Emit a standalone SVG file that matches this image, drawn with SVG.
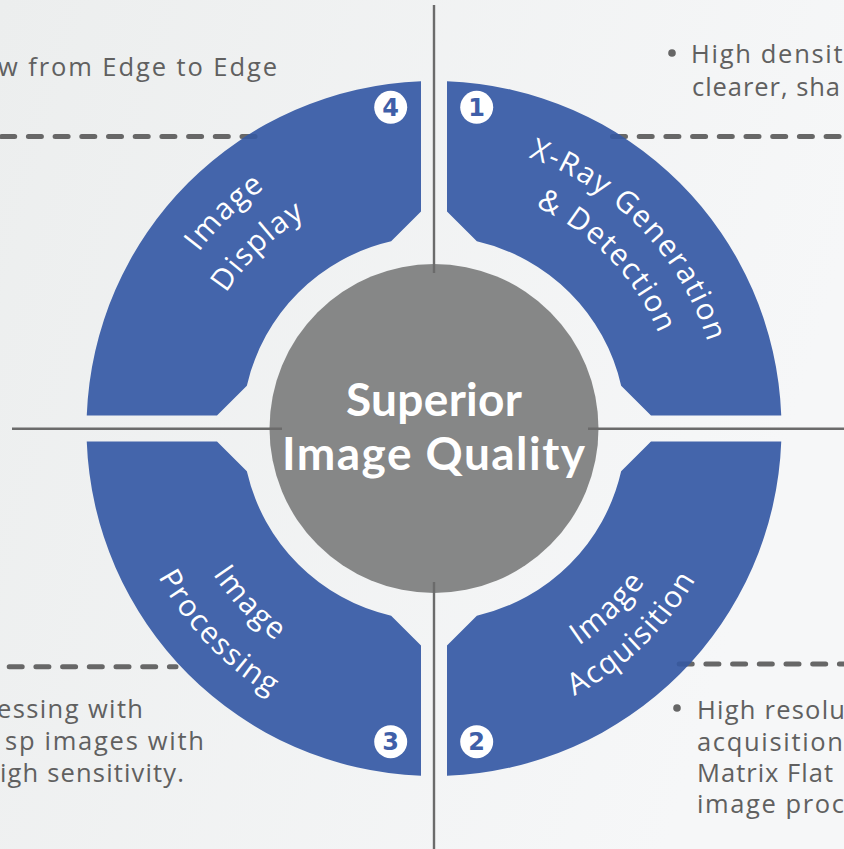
<svg xmlns="http://www.w3.org/2000/svg" width="844" height="849" viewBox="0 0 844 849">
<defs>
<linearGradient id="bg" x1="0" y1="0" x2="1" y2="0.3">
<stop offset="0" stop-color="#eceeee"/>
<stop offset="1" stop-color="#f6f7f8"/>
</linearGradient>
<path id="s1" d="M447,81.24 A347.5,347.5 0 0 1 781.26,415.5 L651,415.5 L621.15,385.65 A192,192 0 0 0 476.85,241.35 L447,211.5 Z"/>
<path id="s2" d="M447,775.76 A347.5,347.5 0 0 0 781.26,441.5 L651,441.5 L621.15,471.35 A192,192 0 0 1 476.85,615.65 L447,645.5 Z"/>
<path id="s3" d="M421,775.76 A347.5,347.5 0 0 1 86.74,441.5 L217,441.5 L246.85,471.35 A192,192 0 0 0 391.15,615.65 L421,645.5 Z"/>
<path id="s4" d="M421,81.24 A347.5,347.5 0 0 0 86.74,415.5 L217,415.5 L246.85,385.65 A192,192 0 0 1 391.15,241.35 L421,211.5 Z"/>
<clipPath id="segclip">
<use href="#s1"/><use href="#s2"/><use href="#s3"/><use href="#s4"/>
</clipPath>
<path id="d1" d="M1.7,136.6 H256"/>
<path id="d2" d="M612.5,136.6 H850"/>
<path id="d3" d="M-17.5,666.7 H176"/>
<path id="d4" d="M679.2,664 H850"/>
<path id="t1a" d="M317.3,166.3 A287,287 0 0 1 692,554.3"/>
<path id="t1b" d="M334.8,205.6 A244,244 0 0 1 653.3,535.5"/>
<path id="t4a" d="M165.4,548.1 A294,294 0 0 1 562.9,164.3"/>
<path id="t4b" d="M207.5,529.4 A248,248 0 0 1 542.7,205.6"/>
<path id="t3a" d="M196.9,310.3 A265,265 0 0 0 539.7,671.5"/>
<path id="t3b" d="M153.9,288.8 A313,313 0 0 0 558.8,715.6"/>
<path id="t2a" d="M319.6,663.1 A261,261 0 0 0 672.4,322.4"/>
<path id="t2b" d="M301.6,699.9 A302,302 0 0 0 709.9,305.7"/>
<style>
.seg{fill:#4465ab}
.lbl{font-family:'Open Sans',sans-serif;font-size:30px;fill:#ffffff;letter-spacing:1.6px}
.dash{fill:none;stroke-width:5;stroke-linecap:round;stroke-dasharray:13 13.7}
.axis{stroke:#6b6b6b;stroke-width:2.4}
.body{font-family:'Open Sans',sans-serif;font-size:25.5px;fill:#606060}
.badge{fill:#ffffff}
.num{font-family:'DejaVu Sans',sans-serif;font-weight:bold;font-size:24px;fill:#3f5fa8;text-anchor:middle}
.ctr{font-family:Lato,sans-serif;font-weight:bold;font-size:46px;fill:#ffffff;text-anchor:middle}
.bullet{fill:#666666}
</style>
</defs>
<rect x="0" y="0" width="844" height="849" fill="url(#bg)"/>

<g id="connectors">
<g class="dash" stroke="#676767">
<use href="#d1"/><use href="#d2"/><use href="#d3"/><use href="#d4"/>
</g>
</g>

<g id="node-1">
<use href="#s1" class="seg"/>
<text class="lbl" text-anchor="middle"><textPath href="#t1a" startOffset="50%">X-Ray Generation</textPath></text>
<text class="lbl" text-anchor="middle"><textPath href="#t1b" startOffset="50%">&amp; Detection</textPath></text>
<circle class="badge" cx="476.7" cy="107.3" r="16.5"/>
<text class="num" x="476.7" y="116">1</text>
</g>
<g id="node-2">
<use href="#s2" class="seg"/>
<text class="lbl" text-anchor="middle"><textPath href="#t2a" startOffset="50%">Image</textPath></text>
<text class="lbl" text-anchor="middle"><textPath href="#t2b" startOffset="50%">Acquisition</textPath></text>
<circle class="badge" cx="476.7" cy="741.7" r="16.5"/>
<text class="num" x="476.7" y="750.4">2</text>
</g>
<g id="node-3">
<use href="#s3" class="seg"/>
<text class="lbl" text-anchor="middle"><textPath href="#t3a" startOffset="50%">Image</textPath></text>
<text class="lbl" text-anchor="middle"><textPath href="#t3b" startOffset="50%">Processing</textPath></text>
<circle class="badge" cx="390.7" cy="741.7" r="16.5"/>
<text class="num" x="390.7" y="750.4">3</text>
</g>
<g id="node-4">
<use href="#s4" class="seg"/>
<text class="lbl" text-anchor="middle"><textPath href="#t4a" startOffset="50%">Image</textPath></text>
<text class="lbl" text-anchor="middle"><textPath href="#t4b" startOffset="50%">Display</textPath></text>
<circle class="badge" cx="390.7" cy="107.3" r="16.5"/>
<text class="num" x="390.7" y="116">4</text>
</g>

<g id="dash-overlap" clip-path="url(#segclip)">
<g class="dash" stroke="#3a5a9c">
<use href="#d1"/><use href="#d2"/><use href="#d3"/><use href="#d4"/>
</g>
</g>

<g id="node-center">
<circle cx="434" cy="428.5" r="164.5" fill="#868787"/>
<text class="ctr" x="434" y="416" textLength="176" lengthAdjust="spacing">Superior</text>
<text class="ctr" x="433.5" y="470" textLength="303" lengthAdjust="spacing">Image Quality</text>
</g>

<g id="axes">
<line class="axis" x1="434" y1="5" x2="434" y2="273"/>
<line class="axis" x1="434" y1="582" x2="434" y2="849"/>
<line class="axis" x1="12" y1="428.7" x2="282" y2="428.7"/>
<line class="axis" x1="588" y1="428.7" x2="844" y2="428.7"/>
</g>

<g id="text-top-left">
<text class="body" x="-2" y="76" textLength="279" lengthAdjust="spacing">w from Edge to Edge</text>
</g>
<g id="text-top-right">
<circle class="bullet" cx="672" cy="53" r="3.8"/>
<text class="body" x="691" y="63" textLength="166" lengthAdjust="spacing">High density</text>
<text class="body" x="692" y="96" textLength="148" lengthAdjust="spacing">clearer, sha</text>
</g>
<g id="text-bottom-left">
<text class="body" x="-3" y="718" textLength="146" lengthAdjust="spacing">essing with</text>
<text class="body" x="5" y="750" textLength="199" lengthAdjust="spacing">sp images with</text>
<text class="body" x="0" y="782" textLength="184" lengthAdjust="spacing">igh sensitivity.</text>
</g>
<g id="text-bottom-right">
<circle class="bullet" cx="677" cy="708" r="3.8"/>
<text class="body" x="697" y="719" textLength="148" lengthAdjust="spacing">High resolu</text>
<text class="body" x="697" y="750.5" textLength="146" lengthAdjust="spacing">acquisition</text>
<text class="body" x="697" y="782" textLength="136" lengthAdjust="spacing">Matrix Flat</text>
<text class="body" x="697" y="813" textLength="147" lengthAdjust="spacing">image proc</text>
</g>
</svg>
